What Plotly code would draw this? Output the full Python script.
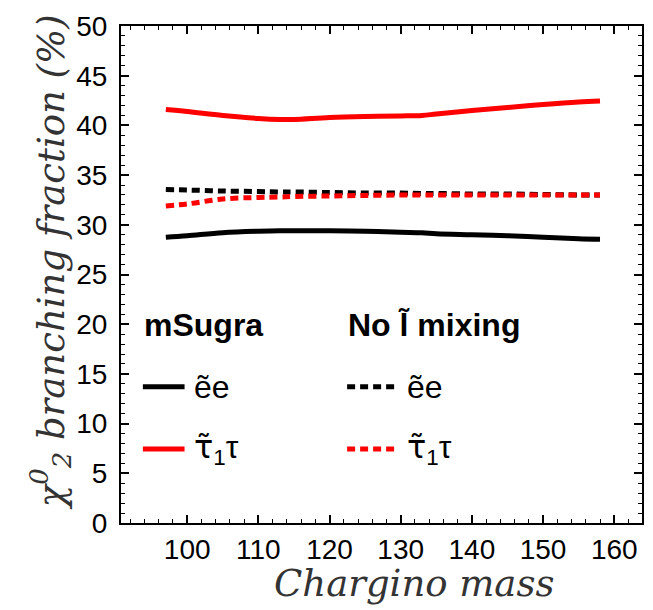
import plotly.graph_objects as go

# Chargino mass (x) and branching fractions (%)
mass = [97, 100, 105, 110, 113, 115, 120, 125, 130, 133, 135, 140, 145, 150, 155, 158]
msugra_tau = [41.6, 41.4, 41.0, 40.7, 40.6, 40.6, 40.8, 40.9, 40.95, 41.0, 41.15, 41.5, 41.8, 42.1, 42.35, 42.45]
msugra_e = [28.75, 28.9, 29.2, 29.35, 29.4, 29.4, 29.4, 29.35, 29.25, 29.2, 29.1, 29.0, 28.9, 28.75, 28.6, 28.55]
nomix_e = [33.55, 33.5, 33.4, 33.35, 33.3, 33.3, 33.25, 33.2, 33.2, 33.15, 33.15, 33.1, 33.1, 33.05, 33.0, 33.0]
nomix_tau = [31.9, 32.1, 32.6, 32.75, 32.8, 32.85, 32.9, 32.95, 33.0, 33.0, 33.0, 33.0, 33.0, 33.0, 33.0, 33.0]

x_ticks = [100, 110, 120, 130, 140, 150, 160]
y_ticks = [0, 5, 10, 15, 20, 25, 30, 35, 40, 45, 50]

RED = "#ff0000"
DOT = "8px,5px"

fig = go.Figure()
fig.add_trace(go.Scatter(x=mass, y=msugra_e, mode="lines", line=dict(color="black", width=5, shape="spline")))
fig.add_trace(go.Scatter(x=mass, y=nomix_e, mode="lines", line=dict(color="black", width=5, dash=DOT, shape="spline")))
fig.add_trace(go.Scatter(x=mass, y=nomix_tau, mode="lines", line=dict(color=RED, width=5, dash=DOT, shape="spline")))
fig.add_trace(go.Scatter(x=mass, y=msugra_tau, mode="lines", line=dict(color=RED, width=5, shape="spline")))

axis_common = dict(
    showline=True, linecolor="black", linewidth=2, mirror="ticks",
    ticks="inside", ticklen=8, tickwidth=1.5, tickcolor="black",
    showgrid=False, zeroline=False,
    tickfont=dict(family="Liberation Sans", size=28, color="black"),
)

fig.update_xaxes(range=[90.7, 163.9], tickvals=x_ticks,
                 minor=dict(ticks="inside", dtick=2, tick0=0, ticklen=4, tickcolor="black", tickwidth=1.2),
                 **axis_common)
fig.update_yaxes(range=[0, 50], tickvals=y_ticks, ticklabelstandoff=6,
                 minor=dict(ticks="inside", dtick=1, tick0=0, ticklen=4, tickcolor="black", tickwidth=1.2),
                 **axis_common)

serif = dict(family="DejaVu Serif", size=37, color="#333333")
leg_font = dict(family="Liberation Sans", size=32, color="black")
head_font = dict(family="Liberation Sans", size=32, color="black")

TAU_T = '<span style="font-family:DejaVu Sans">τ̃</span><sub>1</sub>τ'

annotations = [
    dict(text="<i>χ<sup>0</sup><sub>2</sub> branching fraction (%)</i>", x=-0.136, y=0.525,
         xref="paper", yref="paper", textangle=-90, showarrow=False, font=serif,
         xanchor="center", yanchor="middle"),
    dict(text="<i>Chargino mass</i>", x=0.562, y=-0.122, xref="paper", yref="paper",
         showarrow=False, font=serif, xanchor="center", yanchor="middle"),
    dict(text="<b>mSugra</b>", x=0.04, y=0.398, xref="paper", yref="paper", showarrow=False,
         font=head_font, xanchor="left", yanchor="middle"),
    dict(text="<b>No l̃ mixing</b>", x=0.432, y=0.398, xref="paper", yref="paper", showarrow=False,
         font=head_font, xanchor="left", yanchor="middle"),
    dict(text="ẽe", x=0.136, y=0.274, xref="paper", yref="paper", showarrow=False,
         font=leg_font, xanchor="left", yanchor="middle"),
    dict(text=TAU_T, x=0.136, y=0.149, xref="paper", yref="paper", showarrow=False,
         font=leg_font, xanchor="left", yanchor="middle"),
    dict(text="ẽe", x=0.545, y=0.274, xref="paper", yref="paper", showarrow=False,
         font=leg_font, xanchor="left", yanchor="middle"),
    dict(text=TAU_T, x=0.545, y=0.149, xref="paper", yref="paper", showarrow=False,
         font=leg_font, xanchor="left", yanchor="middle"),
]

shapes = [
    dict(type="line", xref="paper", yref="paper", x0=0.042, x1=0.122, y0=0.274, y1=0.274,
         line=dict(color="black", width=5)),
    dict(type="line", xref="paper", yref="paper", x0=0.042, x1=0.122, y0=0.149, y1=0.149,
         line=dict(color=RED, width=5)),
    dict(type="line", xref="paper", yref="paper", x0=0.434, x1=0.528, y0=0.274, y1=0.274,
         line=dict(color="black", width=5, dash=DOT)),
    dict(type="line", xref="paper", yref="paper", x0=0.434, x1=0.528, y0=0.149, y1=0.149,
         line=dict(color=RED, width=5, dash=DOT)),
]

fig.update_layout(
    width=653, height=610,
    margin=dict(l=121, r=9, t=26, b=87),
    paper_bgcolor="white", plot_bgcolor="white",
    showlegend=False,
    annotations=annotations, shapes=shapes,
)

fig.write_html("out.html")
